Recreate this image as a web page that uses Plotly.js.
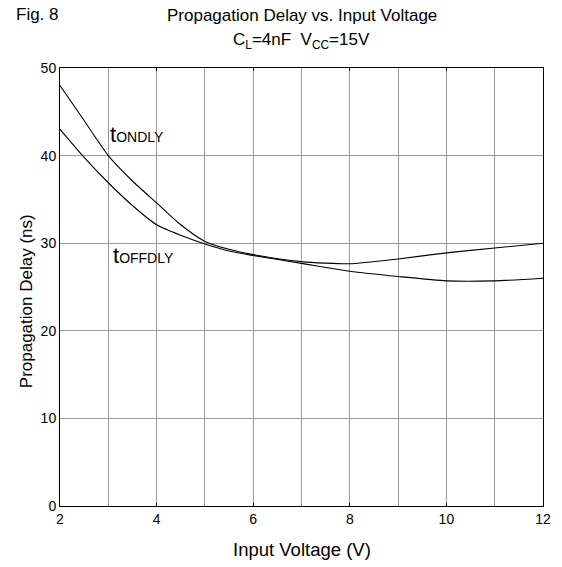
<!DOCTYPE html>
<html><head><meta charset="utf-8">
<script src="https://cdn.plot.ly/plotly-3.0.1.min.js"></script>
<style>html,body{margin:0;padding:0;background:#fff}</style>
</head><body>
<div id="chart" style="width:562px;height:567px"></div>
<script>
const inputVoltage = [2, 2.5, 3, 3.5, 4, 4.5, 5, 5.5, 6, 7, 8, 9, 10, 11, 12];
const tOnDelay  = [48.0, 44.0, 40.0, 37.1, 34.6, 32.1, 30.2, 29.3, 28.7, 27.9, 27.65, 28.2, 28.9, 29.45, 30.0];
const tOffDelay = [43.0, 39.8, 36.9, 34.3, 32.1, 30.9, 29.9, 29.1, 28.6, 27.7, 26.8, 26.2, 25.7, 25.7, 26.0];
const xTicks = [2, 4, 6, 8, 10, 12];
const yTicks = [0, 10, 20, 30, 40, 50];

const FONT = 'Liberation Sans, Arial, sans-serif';
const lineStyle = {color: '#000', width: 1.1, shape: 'spline', smoothing: 0.6};

const data = [
  {x: inputVoltage, y: tOnDelay, mode: 'lines', line: lineStyle, hoverinfo: 'skip'},
  {x: inputVoltage, y: tOffDelay, mode: 'lines', line: lineStyle, hoverinfo: 'skip'}
];

const layout = {
  width: 562, height: 567,
  margin: {l: 60, r: 19, t: 68, b: 61},
  paper_bgcolor: '#fff', plot_bgcolor: '#fff',
  showlegend: false,
  font: {family: FONT, color: '#000', size: 14},
  xaxis: {
    range: [2, 12], tickvals: xTicks, ticktext: xTicks.map(String),
    showgrid: true, gridcolor: '#999', gridwidth: 1,
    showline: true, linecolor: '#000', linewidth: 1, mirror: 'ticks',
    ticks: 'inside', ticklen: 3, tickcolor: '#000', tickwidth: 1, zeroline: false,
    minor: {dtick: 1, showgrid: true, gridcolor: '#999', gridwidth: 1},
    tickfont: {size: 14, family: FONT}
  },
  yaxis: {
    range: [0, 50], tickvals: yTicks, ticktext: yTicks.map(String),
    showgrid: true, gridcolor: '#999', gridwidth: 1,
    showline: true, linecolor: '#000', linewidth: 1, mirror: true,
    ticks: '', zeroline: false,
    tickfont: {size: 14, family: FONT}
  },
  annotations: [
    {xref: 'paper', yref: 'paper', x: -0.095, y: 1.123, xanchor: 'left', yanchor: 'middle',
     text: 'Fig. 8', showarrow: false, font: {size: 17, family: FONT}},
    {xref: 'paper', yref: 'paper', x: 0.5, y: 1.121, xanchor: 'center', yanchor: 'middle',
     text: 'Propagation Delay vs. Input Voltage', showarrow: false, font: {size: 17, family: FONT}},
    {xref: 'paper', yref: 'paper', x: 0.5, y: 1.062, xanchor: 'center', yanchor: 'middle',
     text: 'C<sub>L</sub>=4nF  V<sub>CC</sub>=15V', showarrow: false, font: {size: 17, family: FONT}},
    {xref: 'paper', yref: 'paper', x: 0.5, y: -0.100, xanchor: 'center', yanchor: 'middle',
     text: 'Input Voltage (V)', showarrow: false, font: {size: 18.5, family: FONT}},
    {xref: 'paper', yref: 'paper', x: -0.070, y: 0.468, xanchor: 'center', yanchor: 'middle',
     textangle: -90, text: 'Propagation Delay (ns)', showarrow: false, font: {size: 17, family: FONT}},
    {xref: 'x', yref: 'y', x: 2.99, y: 42.4, xanchor: 'left', yanchor: 'middle',
     text: 't<span style="font-size:14px">ONDLY</span>', showarrow: false, font: {size: 22, family: FONT}},
    {xref: 'x', yref: 'y', x: 3.06, y: 28.6, xanchor: 'left', yanchor: 'middle',
     text: 't<span style="font-size:14px">OFFDLY</span>', showarrow: false, font: {size: 22, family: FONT}}
  ]
};

Plotly.newPlot('chart', data, layout, {displayModeBar: false, staticPlot: true});
</script>
</body></html>
